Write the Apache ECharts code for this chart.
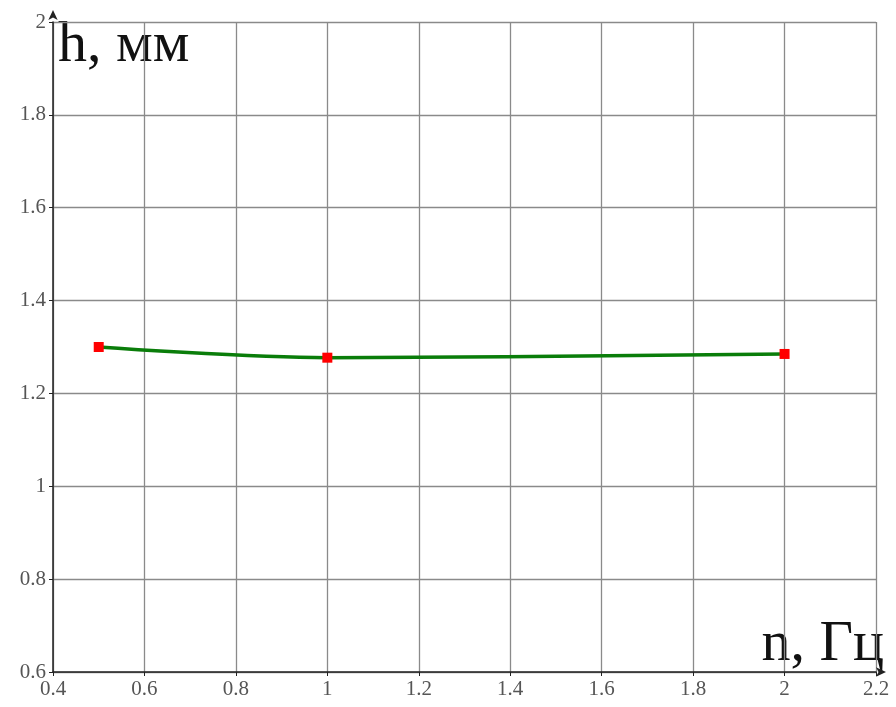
<!DOCTYPE html>
<html><head><meta charset="utf-8">
<script src="https://cdn.jsdelivr.net/npm/echarts@6/dist/echarts.min.js"></script>
<style>html,body{margin:0;padding:0;background:#fff}#c{width:896px;height:707px}</style>
</head><body><div id="c"></div>
<script>
const freq = [0.5, 1, 2];
const height = [1.3, 1.277, 1.285];
const xTitle = 'n, Гц';
const yTitle = 'h, мм';

const chart = echarts.init(document.getElementById('c'));
const serif = '"Liberation Serif", "DejaVu Serif", serif';
chart.setOption({
  animation: false,
  backgroundColor: '#fff',
  grid: {left: 53, right: 20, top: 22, bottom: 35, containLabel: false},
  xAxis: {
    type: 'value', min: 0.4, max: 2.2, interval: 0.2,
    axisLine: {onZero: false, lineStyle: {color: '#222', width: 1.5}, symbol: ['none', 'arrow'], symbolSize: [7, 10], symbolOffset: [0, 10]},
    axisTick: {show: true, length: 4, inside: false, lineStyle: {color: '#222'}},
    splitLine: {show: true, lineStyle: {color: '#8a8a8a', width: 1.3}},
    axisLabel: {color: '#555', fontFamily: serif, fontSize: 21, margin: 7,
      formatter: v => String(Math.round(v * 10) / 10)}
  },
  yAxis: {
    type: 'value', min: 0.6, max: 2, interval: 0.2,
    axisLine: {onZero: false, lineStyle: {color: '#222', width: 1.5}, symbol: ['none', 'arrow'], symbolSize: [7, 10], symbolOffset: [0, 12]},
    axisTick: {show: true, length: 4, inside: false, lineStyle: {color: '#222'}},
    splitLine: {show: true, lineStyle: {color: '#8a8a8a', width: 1.3}},
    axisLabel: {color: '#555', fontFamily: serif, fontSize: 21, margin: 7,
      formatter: v => String(Math.round(v * 10) / 10)}
  },
  graphic: [
    {type: 'text', left: 58, top: 17, style: {text: yTitle, font: '58px ' + serif, fill: '#111'}},
    {type: 'text', right: 12, top: 616, style: {text: xTitle, font: '58px ' + serif, fill: '#111'}}
  ],
  series: [{
    type: 'line',
    data: freq.map((f, i) => [f, height[i]]),
    smooth: 0.35,
    symbol: 'rect', symbolSize: 10,
    itemStyle: {color: '#ff0000'},
    lineStyle: {color: '#0a7d0a', width: 3.5}
  }]
});
</script></body></html>
